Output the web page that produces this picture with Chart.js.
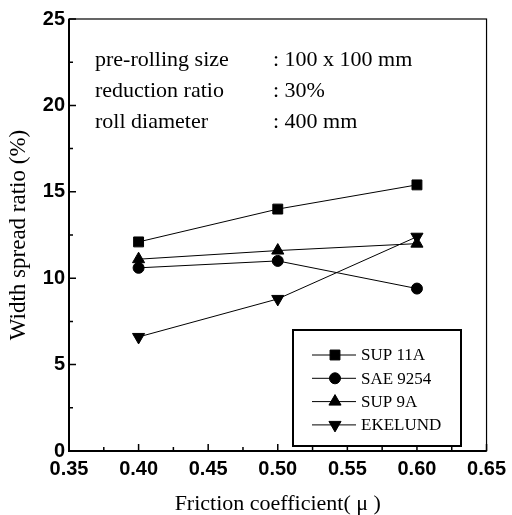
<!DOCTYPE html>
<html>
<head>
<meta charset="utf-8">
<script src="https://cdn.jsdelivr.net/npm/chart.js@4/dist/chart.umd.min.js"></script>
<style>
  html, body { margin: 0; padding: 0; background: #fff; }
  #wrap { width: 512px; height: 515px; }
</style>
</head>
<body>
<div id="wrap"><canvas id="c" width="512" height="515"></canvas></div>
<script>
// --- データ ---
const friction = [0.40, 0.50, 0.60];
const sup11a = [12.1, 14.0, 15.4];
const sae9254 = [10.6, 11.0, 9.4];
const sup9a = [11.1, 11.6, 12.0];
const ekelund = [6.6, 8.8, 12.4];
const seriesNames = ['SUP 11A', 'SAE 9254', 'SUP 9A', 'EKELUND'];
const xTicks = [0.35, 0.40, 0.45, 0.50, 0.55, 0.60, 0.65];
const yTicks = [0, 5, 10, 15, 20, 25];
const notes = [
    ['pre-rolling size', ': 100 x 100 mm'],
    ['reduction ratio', ': 30%'],
    ['roll diameter', ': 400 mm']
];

const serif = '"Liberation Serif", "Times New Roman", serif';
const sans = '"Liberation Sans", Arial, sans-serif';

function pts(ys) {
    return friction.map((x, i) => ({ x: x, y: ys[i] }));
}

function makeSet(label, ys, style, rot, r) {
    return {
        label: label,
        data: pts(ys),
        borderColor: '#000',
        backgroundColor: '#000',
        borderWidth: 1,
        pointStyle: style,
        pointRotation: rot,
        pointRadius: r,
        pointBorderWidth: 1,
        tension: 0
    };
}

// 枠・内向き目盛り・注記・凡例を描くプラグイン
const decor = {
    id: 'decor',
    afterDraw(chart) {
        const ctx = chart.ctx;
        const a = chart.chartArea;
        const xs = chart.scales.x, ys = chart.scales.y;
        ctx.save();
        ctx.strokeStyle = '#000';

        // frame
        ctx.lineWidth = 1.2;
        ctx.strokeRect(a.left, a.top, a.right - a.left, a.bottom - a.top);
        ctx.lineWidth = 2;
        ctx.beginPath();
        ctx.moveTo(a.left, a.top); ctx.lineTo(a.left, a.bottom); ctx.lineTo(a.right, a.bottom);
        ctx.stroke();

        // ticks (inward)
        ctx.lineWidth = 1.5;
        ctx.beginPath();
        for (let i = 0; i < xTicks.length; i++) {
            const px = xs.getPixelForValue(xTicks[i]);
            ctx.moveTo(px, a.bottom); ctx.lineTo(px, a.bottom - 7);
            if (i < xTicks.length - 1) {
                const mx = xs.getPixelForValue((xTicks[i] + xTicks[i + 1]) / 2);
                ctx.moveTo(mx, a.bottom); ctx.lineTo(mx, a.bottom - 4);
            }
        }
        for (let i = 0; i < yTicks.length; i++) {
            const py = ys.getPixelForValue(yTicks[i]);
            ctx.moveTo(a.left, py); ctx.lineTo(a.left + 7, py);
            if (i < yTicks.length - 1) {
                const my = ys.getPixelForValue((yTicks[i] + yTicks[i + 1]) / 2);
                ctx.moveTo(a.left, my); ctx.lineTo(a.left + 4, my);
            }
        }
        ctx.stroke();

        // notes
        ctx.fillStyle = '#000';
        ctx.font = '22px ' + serif;
        ctx.textBaseline = 'middle';
        ctx.textAlign = 'left';
        notes.forEach((n, i) => {
            const y = a.top + 41 + i * 31;
            ctx.fillText(n[0], a.left + 26, y);
            ctx.fillText(n[1], a.left + 204, y);
        });

        // legend
        const lx = 293, ly = 330, lw = 168, lh = 116;
        ctx.fillStyle = '#fff';
        ctx.fillRect(lx, ly, lw, lh);
        ctx.lineWidth = 2;
        ctx.strokeRect(lx, ly, lw, lh);
        ctx.font = '17px ' + serif;
        chart.data.datasets.forEach((ds, i) => {
            const y = ly + 25 + i * 23.3;
            ctx.lineWidth = 1;
            ctx.beginPath();
            ctx.moveTo(lx + 19, y); ctx.lineTo(lx + 63, y);
            ctx.stroke();
            ctx.fillStyle = '#000';
            Chart.helpers.drawPoint(ctx, {
                pointStyle: ds.pointStyle,
                rotation: ds.pointRotation,
                radius: ds.pointRadius,
                borderWidth: 1
            }, lx + 42, y);
            ctx.fillText(seriesNames[i], lx + 68, y + 1);
        });
        ctx.restore();
    }
};

new Chart(document.getElementById('c'), {
    type: 'line',
    data: {
        datasets: [
            makeSet(seriesNames[0], sup11a, 'rect', 0, 7),
            makeSet(seriesNames[1], sae9254, 'circle', 0, 5.5),
            makeSet(seriesNames[2], sup9a, 'triangle', 0, 7),
            makeSet(seriesNames[3], ekelund, 'triangle', 180, 7)
        ]
    },
    options: {
        responsive: false,
        animation: false,
        layout: { padding: { top: 19, right: 21, left: 0, bottom: 0 } },
        plugins: { legend: { display: false }, tooltip: { enabled: false } },
        scales: {
            x: {
                type: 'linear',
                min: 0.35, max: 0.65,
                afterBuildTicks: s => { s.ticks = xTicks.map(v => ({ value: v })); },
                afterFit: s => { s.height = 64; },
                grid: { display: false, drawTicks: false },
                border: { display: false },
                ticks: {
                    color: '#000', padding: 6,
                    font: { family: sans, size: 20, weight: 'bold' },
                    callback: v => v.toFixed(2)
                },
                title: {
                    display: true, text: 'Friction coefficient( μ )', color: '#000',
                    font: { family: serif, size: 22, lineHeight: 1.0 }, padding: { top: 4, bottom: 0 }
                }
            },
            y: {
                min: 0, max: 25,
                afterBuildTicks: s => { s.ticks = yTicks.map(v => ({ value: v })); },
                afterFit: s => { s.width = 69; },
                grid: { display: false, drawTicks: false },
                border: { display: false },
                ticks: {
                    color: '#000', padding: 4,
                    font: { family: sans, size: 20, weight: 'bold' }
                },
                title: {
                    display: true, text: 'Width spread ratio (%)', color: '#000',
                    font: { family: serif, size: 23 }, padding: { top: 5, bottom: 2 }
                }
            }
        }
    },
    plugins: [decor]
});
</script>
</body>
</html>
